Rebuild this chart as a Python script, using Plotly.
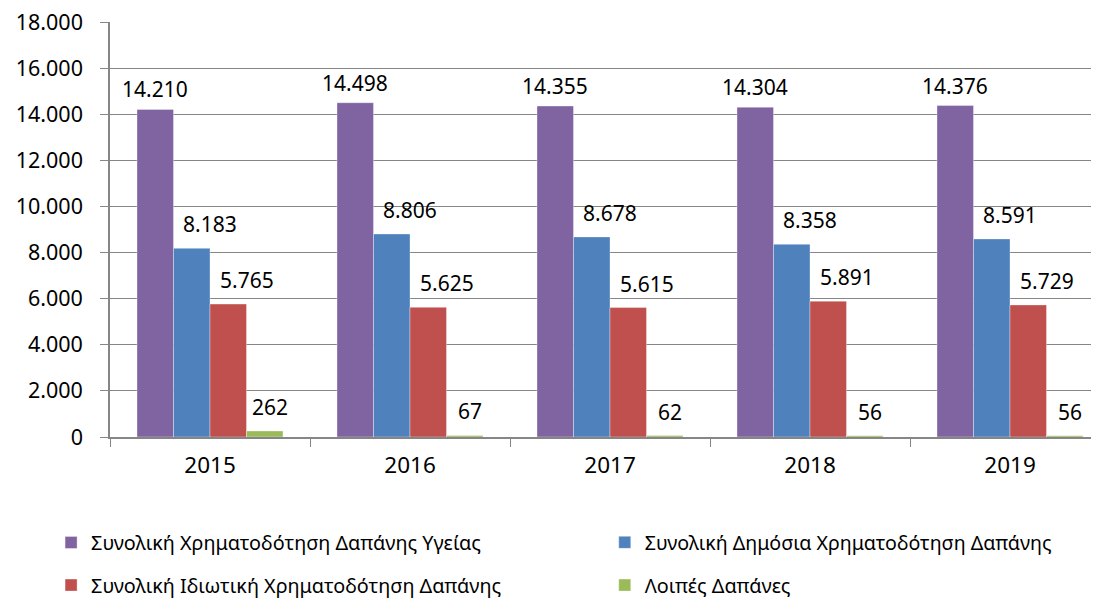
import plotly.graph_objects as go

years = ["2015", "2016", "2017", "2018", "2019"]
series_names = [
    "Συνολική Χρηματοδότηση Δαπάνης Υγείας",
    "Συνολική Δημόσια Χρηματοδότηση Δαπάνης",
    "Συνολική Ιδιωτική Χρηματοδότηση Δαπάνης",
    "Λοιπές Δαπάνες",
]
total_health = [14210, 14498, 14355, 14304, 14376]
public_funding = [8183, 8806, 8678, 8358, 8591]
private_funding = [5765, 5625, 5615, 5891, 5729]
other_expenses = [262, 67, 62, 56, 56]
colors = ["#8064A2", "#4F81BD", "#C0504D", "#9BBB59"]
y_ticks = [0, 2000, 4000, 6000, 8000, 10000, 12000, 14000, 16000, 18000]

series_values = [total_health, public_funding, private_funding, other_expenses]
label_nudge_px = [0, 18, 19, 5]
label_lift_px = [20, 24, 24, 24]
# legend grid: 2 columns x 2 rows (container fractions)
legend_ids = ["legend", "legend2", "legend3", "legend4"]
legend_x = [0.0392, 0.5430, 0.0392, 0.5430]
legend_y = [0.109, 0.109, 0.038, 0.038]
legend_font_size = [19.8, 19.6, 19.8, 19.8]

FONT = "Noto Sans"
bargap = 0.27
n_series = len(series_values)
bar_w = (1 - bargap) / n_series

fig = go.Figure()
for k, (name, vals, col) in enumerate(zip(series_names, series_values, colors)):
    fig.add_trace(go.Bar(
        name=name, x=years, y=vals,
        marker=dict(color=col, line=dict(color="rgba(255,255,255,0.35)", width=1)),
        legend=legend_ids[k], showlegend=True,
        hoverinfo="skip",
    ))

annotations = []
for k, vals in enumerate(series_values):
    off = -(1 - bargap) / 2 + bar_w * (k + 0.5)
    for i, v in enumerate(vals):
        annotations.append(dict(
            x=i + off, y=v, xref="x", yref="y",
            text=f"{v:,}".replace(",", "."),
            showarrow=False, xanchor="center", yanchor="middle",
            xshift=label_nudge_px[k], yshift=label_lift_px[k],
            font=dict(family=FONT, size=21, color="#000000"),
        ))

legends = {}
for k, lid in enumerate(legend_ids):
    legends[lid] = dict(
        orientation="h", xref="container", yref="container",
        x=legend_x[k], y=legend_y[k], xanchor="left", yanchor="middle",
        font=dict(family=FONT, size=legend_font_size[k], color="#000000"),
        bgcolor="rgba(0,0,0,0)", visible=True,
    )

fig.update_layout(
    width=1099, height=600,
    margin=dict(l=102, r=8, t=14, b=171, autoexpand=False),
    paper_bgcolor="white", plot_bgcolor="white",
    barmode="group", bargap=bargap, bargroupgap=0,
    separators=",.",
    showlegend=True,
    font=dict(family=FONT, color="#000000"),
    annotations=annotations,
    **legends,
)

fig.update_xaxes(
    type="category", range=[-0.5, 4.445],
    showline=True, linecolor="#868686", linewidth=1.5,
    tickson="boundaries", ticks="outside", ticklen=8, tickcolor="#868686",
    showgrid=False, ticklabelstandoff=7,
    tickfont=dict(family=FONT, size=22.5, color="#000000"),
)
fig.update_yaxes(
    range=[0, 18000], tickvals=y_ticks, tickformat=",d",
    showline=True, linecolor="#868686", linewidth=1.5,
    ticks="outside", ticklen=8, tickcolor="#868686",
    showgrid=True, gridcolor="#868686", gridwidth=1,
    zeroline=False, ticklabelstandoff=13, ticklabeloverflow="allow",
    tickfont=dict(family=FONT, size=21.5, color="#000000"),
)

fig.write_html("out.html")
